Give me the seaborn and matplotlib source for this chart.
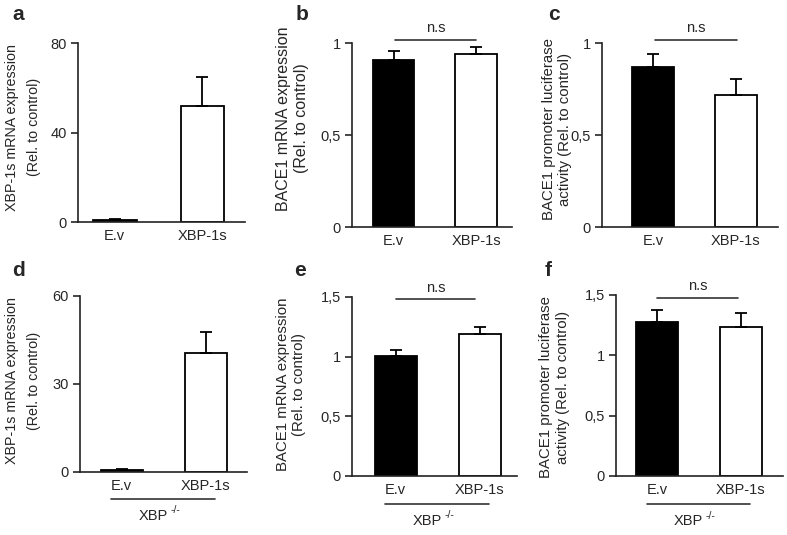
import numpy as np
import pandas as pd
import matplotlib
matplotlib.use("Agg")
import matplotlib.pyplot as plt
import matplotlib.transforms as mtransforms
import seaborn as sns

# data
groups = ["E.v", "XBP-1s"]
a_vals = [1.0, 52.0]
a_errs = [0.4, 13.0]
b_vals = [0.91, 0.94]
b_errs = [0.045, 0.037]
c_vals = [0.87, 0.715]
c_errs = [0.073, 0.089]
d_vals = [0.8, 40.5]
d_errs = [0.3, 7.3]
e_vals = [1.005, 1.19]
e_errs = [0.05, 0.058]
f_vals = [1.275, 1.232]
f_errs = [0.10, 0.12]

ylab_xbp = "XBP-1s mRNA expression\n(Rel. to control)"
ylab_bace = "BACE1 mRNA expression\n(Rel. to control)"
ylab_luc = "BACE1 promoter luciferase\nactivity (Rel. to control)"

sns.set_theme(style="ticks")
plt.rcParams["font.family"] = ["Liberation Sans", "DejaVu Sans"]

fig = plt.figure(figsize=(7.87, 5.35), dpi=100)

# (letter, rect, vals, errs, ymax, yticks, yticklabels, xlim, ylabel, label x/y, label size, linesp, ns, knockout)
panels = [
    ("a", [0.0991, 0.5850, 0.2122, 0.3346], a_vals, a_errs, 80, [0, 40, 80], ["0", "40", "80"],
     (-0.42, 1.486), ylab_xbp, (-0.33, 0.53), 10.3, 1.7, None, False),
    ("b", [0.4473, 0.5757, 0.2033, 0.3439], b_vals, b_errs, 1, [0, 0.5, 1], ["0", "0,5", "1"],
     (-0.503, 1.436), ylab_bace, (-0.37, 0.59), 11.5, 1.25, (0.02, 1.0, 1.016), False),
    ("c", [0.7649, 0.5757, 0.2236, 0.3439], c_vals, c_errs, 1, [0, 0.5, 1], ["0", "0,5", "1"],
     (-0.614, 1.506), ylab_luc, (-0.255, 0.53), 10.8, 1.2, (0.02, 1.01, 1.016), False),
    ("d", [0.1017, 0.1178, 0.2122, 0.3290], d_vals, d_errs, 60, [0, 30, 60], ["0", "30", "60"],
     (-0.494, 1.494), ylab_xbp, (-0.34, 0.52), 10.3, 1.7, None, True),
    ("e", [0.4473, 0.1103, 0.2097, 0.3346], e_vals, e_errs, 1.5, [0, 0.5, 1, 1.5], ["0", "0,5", "1", "1,5"],
     (-0.518, 1.446), ylab_bace, (-0.37, 0.51), 10.8, 1.25, (0.0, 0.95, 1.483), True),
    ("f", [0.7827, 0.1103, 0.2122, 0.3383], f_vals, f_errs, 1.5, [0, 0.5, 1, 1.5], ["0", "0,5", "1", "1,5"],
     (-0.488, 1.5), ylab_luc, (-0.37, 0.49), 10.8, 1.25, (0.0, 0.96, 1.478), True),
]

letter_pos = {"a": (12, 15), "b": (296, 15), "c": (548, 15),
              "d": (12, 271), "e": (294, 271), "f": (545, 271)}

for (letter, rect, vals, errs, ymax, yt, ytl, xlim, ylab, lpos, lsize, lsp, ns, ko) in panels:
    ax = fig.add_axes(rect)
    df = pd.DataFrame({"group": groups, "value": vals})
    sns.barplot(data=df, x="group", y="value", hue="group", palette=["black", "white"],
                edgecolor="black", linewidth=1.3, width=0.5, errorbar=None,
                legend=False, ax=ax)
    # upward-only error bars
    ax.errorbar(x=[0, 1], y=vals, yerr=[np.zeros(2), errs], fmt="none", ecolor="black",
                elinewidth=1.3, capsize=4.5, capthick=1.3, zorder=3)
    ax.set_xlim(*xlim)
    ax.set_ylim(0, ymax)
    ax.set_yticks(yt)
    ax.set_yticklabels(ytl)
    ax.tick_params(axis="y", length=5, width=1.2, labelsize=10.5, pad=3)
    ax.tick_params(axis="x", length=0, labelsize=10.5, pad=5)
    ax.set_xlabel("")
    ax.set_ylabel("")
    for side in ["top", "right"]:
        ax.spines[side].set_visible(False)
    for side in ["left", "bottom"]:
        ax.spines[side].set_linewidth(1.2)
        ax.spines[side].set_color("#222222")
    ax.text(lpos[0], lpos[1], ylab, transform=ax.transAxes, rotation=90, ha="center",
            va="center", multialignment="center", fontsize=lsize, linespacing=lsp)
    trans = mtransforms.blended_transform_factory(ax.transData, ax.transAxes)
    if ns is not None:
        ax.plot([ns[0], ns[1]], [ns[2], ns[2]], color="#333333", lw=1.2, clip_on=False)
        ax.text((ns[0] + ns[1]) / 2, ns[2] + ymax * 0.025, "n.s", ha="center", va="bottom",
                fontsize=10.5)
    if ko:
        ax.plot([-0.12, 1.11], [-0.155, -0.155], color="#333333", lw=1.2,
                clip_on=False, transform=trans)
        ax.text(0.55, -0.25, "XBP", ha="right", va="center", fontsize=10.5,
                transform=trans)
        ax.annotate("-/-", xy=(0.55, -0.25), xycoords=trans, xytext=(2, 4),
                    textcoords="offset points", ha="left", va="center", fontsize=7.5)
    lx, ly = letter_pos[letter]
    fig.text(lx / 787, 1 - ly / 535, letter, ha="left", va="center", fontsize=15,
             fontweight="bold")

fig.savefig("out.png", dpi=100)
